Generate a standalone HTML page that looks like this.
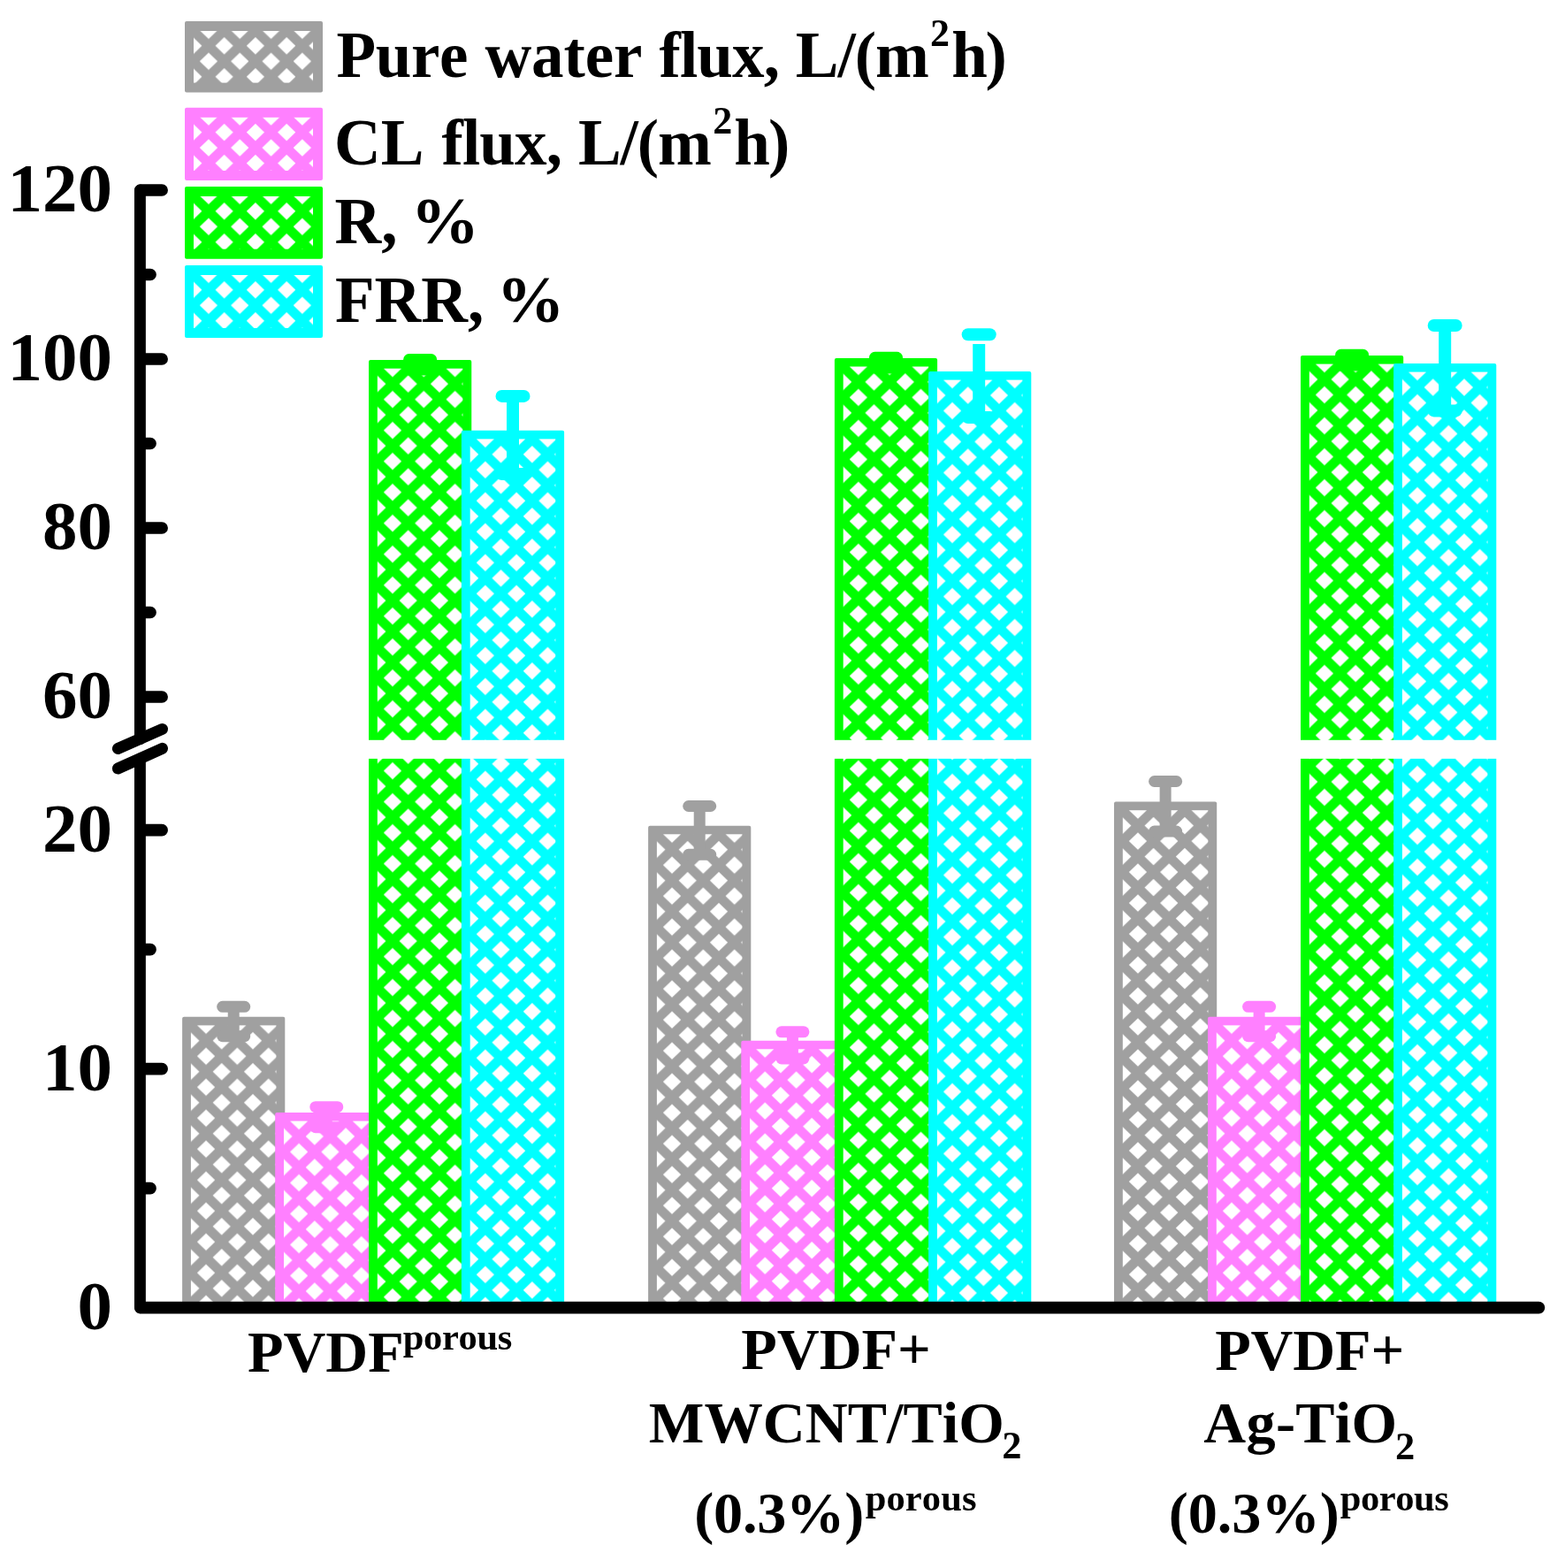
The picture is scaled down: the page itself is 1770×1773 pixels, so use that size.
<!DOCTYPE html>
<html><head><meta charset="utf-8"><title>Membrane flux chart</title>
<style>
html,body{margin:0;padding:0;background:#fff;}
body{width:1770px;height:1773px;overflow:hidden;}
svg{display:block;}
text{font-family:"Liberation Serif","Times New Roman",serif;font-weight:bold;fill:#000;font-kerning:none;font-variant-ligatures:none;}
</style></head><body>
<svg width="1770" height="1773" viewBox="0 0 1770 1773">
<defs>
<pattern id="holes" patternUnits="userSpaceOnUse" x="0" y="0" width="35.3" height="35">
<path d="M7.55 0L17.65 -9.8L27.75 0L17.65 9.8Z M-10.1 17.5L0 7.7L10.1 17.5L0 27.3Z M25.2 17.5L35.3 7.7L45.4 17.5L35.3 27.3Z M7.55 35L17.65 25.2L27.75 35L17.65 44.8Z" fill="#fff"/>
</pattern>
</defs>
<rect width="1770" height="1773" fill="#fff"/>

<g transform="translate(215.4,1159.3)"><rect x="-9.3" y="-9.5" width="116.2" height="328.9" rx="2" fill="#A0A0A0"/><rect x="0.5" y="0.1" width="96.6" height="319.3" fill="url(#holes)"/></g>
<g transform="translate(320.5,1267.5)"><rect x="-9.3" y="-9.5" width="116.2" height="220.7" rx="2" fill="#FF80FF"/><rect x="0.5" y="0.1" width="96.6" height="211.1" fill="url(#holes)"/></g>
<g transform="translate(426.35,416.6)"><rect x="-9.3" y="-9.5" width="116.2" height="1071.6" rx="2" fill="#00FF00"/><rect x="0.5" y="0.1" width="96.6" height="1062" fill="url(#holes)"/></g>
<g transform="translate(531.2,496.3)"><rect x="-9.3" y="-9.5" width="116.2" height="991.9" rx="2" fill="#00FFFF"/><rect x="0.5" y="0.1" width="96.6" height="982.3" fill="url(#holes)"/></g>
<g transform="translate(742.4,943.2)"><rect x="-9.3" y="-9.5" width="116.2" height="545" rx="2" fill="#A0A0A0"/><rect x="0.5" y="0.1" width="96.6" height="535.4" fill="url(#holes)"/></g>
<g transform="translate(847.6,1186.2)"><rect x="-9.3" y="-9.5" width="116.2" height="302" rx="2" fill="#FF80FF"/><rect x="0.5" y="0.1" width="96.6" height="292.4" fill="url(#holes)"/></g>
<g transform="translate(953.2,414.4)"><rect x="-9.3" y="-9.5" width="116.2" height="1073.8" rx="2" fill="#00FF00"/><rect x="0.5" y="0.1" width="96.6" height="1064.2" fill="url(#holes)"/></g>
<g transform="translate(1059.4,429.5)"><rect x="-9.3" y="-9.5" width="116.2" height="1058.7" rx="2" fill="#00FFFF"/><rect x="0.5" y="0.1" width="96.6" height="1049.1" fill="url(#holes)"/></g>
<g transform="translate(1269.3,916.1)"><rect x="-9.3" y="-9.5" width="116.2" height="572.1" rx="2" fill="#A0A0A0"/><rect x="0.5" y="0.1" width="96.6" height="562.5" fill="url(#holes)"/></g>
<g transform="translate(1375.3,1159.3)"><rect x="-9.3" y="-9.5" width="116.2" height="328.9" rx="2" fill="#FF80FF"/><rect x="0.5" y="0.1" width="96.6" height="319.3" fill="url(#holes)"/></g>
<g transform="translate(1480.3,411.5)"><rect x="-9.3" y="-9.5" width="116.2" height="1076.7" rx="2" fill="#00FF00"/><rect x="0.5" y="0.1" width="96.6" height="1067.1" fill="url(#holes)"/></g>
<g transform="translate(1585.4,420.5)"><rect x="-9.3" y="-9.5" width="116.2" height="1067.7" rx="2" fill="#00FFFF"/><rect x="0.5" y="0.1" width="96.6" height="1058.1" fill="url(#holes)"/></g>
<path d="M264.2 1138.3L264.2 1171.7" stroke="#A0A0A0" stroke-width="13" fill="none"/>
<path d="M251.7 1138.3L276.7 1138.3" stroke="#A0A0A0" stroke-width="13" stroke-linecap="round" fill="none"/>
<path d="M251.7 1171.7L276.7 1171.7" stroke="#A0A0A0" stroke-width="13" stroke-linecap="round" fill="none"/>
<path d="M369.3 1251.7L369.3 1274.7" stroke="#FF80FF" stroke-width="13" fill="none"/>
<path d="M356.8 1251.7L381.8 1251.7" stroke="#FF80FF" stroke-width="13" stroke-linecap="round" fill="none"/>
<path d="M356.8 1274.7L381.8 1274.7" stroke="#FF80FF" stroke-width="13" stroke-linecap="round" fill="none"/>
<path d="M475.15 406.5L475.15 418.1" stroke="#00FF00" stroke-width="13" fill="none"/>
<path d="M462.65 406.5L487.65 406.5" stroke="#00FF00" stroke-width="13" stroke-linecap="round" fill="none"/>
<path d="M462.65 418.1L487.65 418.1" stroke="#00FF00" stroke-width="13" stroke-linecap="round" fill="none"/>
<path d="M580 447.9L580 536.1" stroke="#00FFFF" stroke-width="14" fill="none"/>
<path d="M567.5 447.9L592.5 447.9" stroke="#00FFFF" stroke-width="14" stroke-linecap="round" fill="none"/>
<path d="M567.5 536.1L592.5 536.1" stroke="#00FFFF" stroke-width="14" stroke-linecap="round" fill="none"/>
<path d="M791.2 911.5L791.2 966.3" stroke="#A0A0A0" stroke-width="13" fill="none"/>
<path d="M778.7 911.5L803.7 911.5" stroke="#A0A0A0" stroke-width="13" stroke-linecap="round" fill="none"/>
<path d="M778.7 966.3L803.7 966.3" stroke="#A0A0A0" stroke-width="13" stroke-linecap="round" fill="none"/>
<path d="M896.4 1166.8L896.4 1197" stroke="#FF80FF" stroke-width="13" fill="none"/>
<path d="M883.9 1166.8L908.9 1166.8" stroke="#FF80FF" stroke-width="13" stroke-linecap="round" fill="none"/>
<path d="M883.9 1197L908.9 1197" stroke="#FF80FF" stroke-width="13" stroke-linecap="round" fill="none"/>
<path d="M1002 404.3L1002 415.9" stroke="#00FF00" stroke-width="13" fill="none"/>
<path d="M989.5 404.3L1014.5 404.3" stroke="#00FF00" stroke-width="13" stroke-linecap="round" fill="none"/>
<path d="M989.5 415.9L1014.5 415.9" stroke="#00FF00" stroke-width="13" stroke-linecap="round" fill="none"/>
<path d="M1107.2 389L1107.2 472.1" stroke="#00FFFF" stroke-width="14" fill="none"/>
<path d="M1094.7 378.3L1119.7 378.3" stroke="#00FFFF" stroke-width="14" stroke-linecap="round" fill="none"/>
<path d="M1094.7 472.1L1119.7 472.1" stroke="#00FFFF" stroke-width="14" stroke-linecap="round" fill="none"/>
<path d="M1318.1 883.5L1318.1 940.1" stroke="#A0A0A0" stroke-width="13" fill="none"/>
<path d="M1305.6 883.5L1330.6 883.5" stroke="#A0A0A0" stroke-width="13" stroke-linecap="round" fill="none"/>
<path d="M1305.6 940.1L1330.6 940.1" stroke="#A0A0A0" stroke-width="13" stroke-linecap="round" fill="none"/>
<path d="M1424.1 1138.3L1424.1 1171.7" stroke="#FF80FF" stroke-width="13" fill="none"/>
<path d="M1411.6 1138.3L1436.6 1138.3" stroke="#FF80FF" stroke-width="13" stroke-linecap="round" fill="none"/>
<path d="M1411.6 1171.7L1436.6 1171.7" stroke="#FF80FF" stroke-width="13" stroke-linecap="round" fill="none"/>
<path d="M1529.1 401.3L1529.1 413.1" stroke="#00FF00" stroke-width="13" fill="none"/>
<path d="M1516.6 401.3L1541.6 401.3" stroke="#00FF00" stroke-width="13" stroke-linecap="round" fill="none"/>
<path d="M1516.6 413.1L1541.6 413.1" stroke="#00FF00" stroke-width="13" stroke-linecap="round" fill="none"/>
<path d="M1634.2 368L1634.2 464.4" stroke="#00FFFF" stroke-width="14" fill="none"/>
<path d="M1621.7 368L1646.7 368" stroke="#00FFFF" stroke-width="14" stroke-linecap="round" fill="none"/>
<path d="M1621.7 464.4L1646.7 464.4" stroke="#00FFFF" stroke-width="14" stroke-linecap="round" fill="none"/>
<rect x="195" y="836.8" width="1520" height="21.1" fill="#fff"/>
<path d="M158.4 215L158.4 835.6M158.4 858L158.4 1478.7" stroke="#000" stroke-width="12.9" fill="none" stroke-linecap="round" stroke-linejoin="round"/>
<path d="M159 1478.7L1740.4 1478.7" stroke="#000" stroke-width="13.7" fill="none" stroke-linecap="round" stroke-linejoin="round"/>
<path d="M133.3 846.5L183.6 824.4M133.3 869L183.6 846.3" stroke="#000" stroke-width="12.9" fill="none" stroke-linecap="round" stroke-linejoin="round"/>
<path d="M159 215L183.1 215M159 406L183.1 406M159 597L183.1 597M159 788L183.1 788M159 938.7L183.1 938.7M159 1208.7L183.1 1208.7M159 310.5L170 310.5M159 501.5L170 501.5M159 692.5L170 692.5M159 1073.7L170 1073.7M159 1343.7L170 1343.7" stroke="#000" stroke-width="13.7" fill="none" stroke-linecap="round" stroke-linejoin="round"/>
<text x="8.51" y="239.3" font-size="79">120</text>
<text x="8.51" y="430.3" font-size="79">100</text>
<text x="48.01" y="621.3" font-size="79">80</text>
<text x="48.01" y="812.3" font-size="79">60</text>
<text x="48.01" y="963" font-size="79">20</text>
<text x="48.01" y="1233" font-size="79">10</text>
<text x="87.51" y="1503" font-size="79">0</text>
<g transform="translate(218.3,34.3)"><rect x="-9.3" y="-10.3" width="156" height="80.6" rx="2" fill="#A0A0A0"/><rect x="0.7" y="0.7" width="135" height="58.6" fill="url(#holes)"/></g>
<g transform="translate(218.3,132.1)"><rect x="-9.3" y="-10.3" width="156" height="82.2" rx="2" fill="#FF80FF"/><rect x="0.7" y="0.7" width="135" height="60.2" fill="url(#holes)"/></g>
<g transform="translate(218.3,221.3)"><rect x="-9.3" y="-10.3" width="156" height="81.7" rx="2" fill="#00FF00"/><rect x="0.7" y="0.7" width="135" height="59.7" fill="url(#holes)"/></g>
<g transform="translate(218.3,310.3)"><rect x="-9.3" y="-10.3" width="156" height="82" rx="2" fill="#00FFFF"/><rect x="0.7" y="0.7" width="135" height="60" fill="url(#holes)"/></g>
<text x="380.55" y="87" font-size="73" textLength="148.84" lengthAdjust="spacing">Pure</text>
<text x="548.39" y="87" font-size="73" textLength="177.98" lengthAdjust="spacing">water</text>
<text x="745.47" y="87" font-size="73" textLength="136.51" lengthAdjust="spacing">flux,</text>
<text x="899.8" y="87" font-size="73" textLength="151.05" lengthAdjust="spacing">L/(m</text>
<text x="1052.05" y="52" font-size="44">2</text>
<text x="1076.18" y="87" font-size="73" textLength="62.53" lengthAdjust="spacing">h)</text>
<text x="378.04" y="185.8" font-size="73">CL</text>
<text x="499.47" y="185.8" font-size="73" textLength="136.51" lengthAdjust="spacing">flux,</text>
<text x="653.95" y="185.8" font-size="73" textLength="150.9" lengthAdjust="spacing">L/(m</text>
<text x="806.35" y="150.9" font-size="44">2</text>
<text x="830.28" y="185.8" font-size="73" textLength="62.93" lengthAdjust="spacing">h)</text>
<text x="378.55" y="274.6" font-size="73">R,</text>
<text x="464.51" y="274.6" font-size="73" textLength="77.63" lengthAdjust="spacingAndGlyphs">%</text>
<text x="378.95" y="363.9" font-size="73">FRR,</text>
<text x="561.61" y="363.9" font-size="73" textLength="77.03" lengthAdjust="spacingAndGlyphs">%</text>
<text x="280.07" y="1550.7" font-size="66.3" textLength="176.61" lengthAdjust="spacing">PVDF</text>
<text x="455.66" y="1525.7" font-size="42.5" textLength="123.68" lengthAdjust="spacing">porous</text>
<text x="838.37" y="1548" font-size="66.3" textLength="214.4" lengthAdjust="spacing">PVDF+</text>
<text x="733.77" y="1630.9" font-size="66.3" textLength="402.17" lengthAdjust="spacing">MWCNT/TiO</text>
<text x="1133.23" y="1649.1" font-size="44.5">2</text>
<text x="785.19" y="1733" font-size="66.3" textLength="192.03" lengthAdjust="spacing">(0.3%)</text>
<text x="978.76" y="1708.2" font-size="42.5" textLength="125.68" lengthAdjust="spacing">porous</text>
<text x="1374.17" y="1548.9" font-size="66.3" textLength="214" lengthAdjust="spacing">PVDF+</text>
<text x="1361.35" y="1630.8" font-size="66.3" textLength="218.78" lengthAdjust="spacing">Ag-TiO</text>
<text x="1578.03" y="1650.2" font-size="44.5">2</text>
<text x="1321.69" y="1732.8" font-size="66.3" textLength="193.13" lengthAdjust="spacing">(0.3%)</text>
<text x="1515.76" y="1707.7" font-size="42.5" textLength="122.98" lengthAdjust="spacing">porous</text>
</svg>
</body></html>
